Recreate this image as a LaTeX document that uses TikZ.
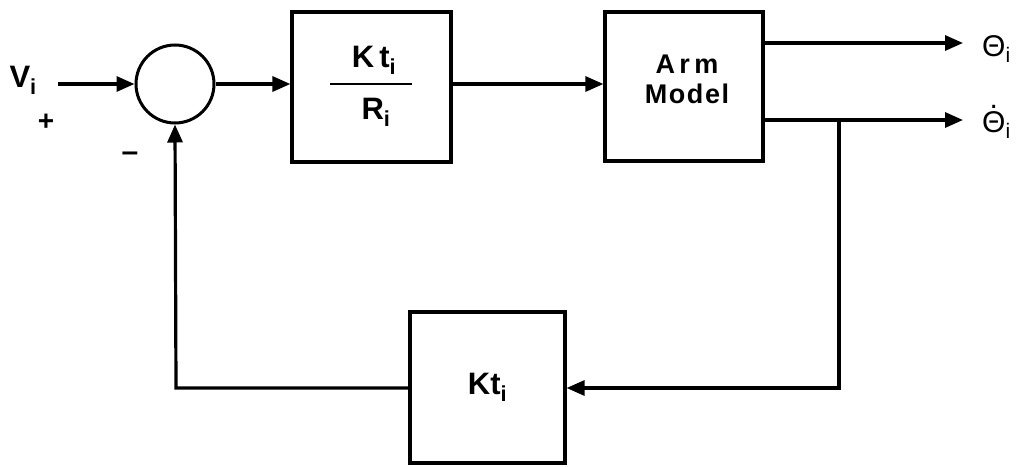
\documentclass[tikz,border=0pt]{standalone}
\usepackage{fontspec}
\setmainfont{Liberation Sans}
\usetikzlibrary{arrows.meta}
\newcommand\dotover[1]{\ooalign{#1\cr\hidewidth\smash{\raisebox{0.8em}{.}}\hidewidth\cr}}
\begin{document}
\begin{tikzpicture}[x=1pt,y=-1pt,
  wire/.style={line width=3.2pt},
  arr/.style={wire,-{Triangle[length=18pt,width=15pt]}},
  blockbox/.style={draw,line width=3.2pt,inner sep=0pt},
  lbl/.style={font=\fontsize{31}{34}\selectfont\bfseries},
  sml/.style={font=\fontsize{27}{30}\selectfont\bfseries\addfontfeature{LetterSpace=6}},
  outlbl/.style={font=\fontsize{30}{32}\selectfont,anchor=base west,inner sep=0pt}]
\useasboundingbox (0,0) rectangle (1020,466);
% blocks
\node[draw,circle,line width=3pt,minimum size=78pt,inner sep=0pt] (sum) at (175,84) {};
\node[blockbox,minimum width=159pt,minimum height=150pt] (gain) at (371.5,87) {};
\node[blockbox,minimum width=158pt,minimum height=149pt] (arm) at (684,86.5) {};
\node[sml,align=center] (armtxt) at (687,79) {A\,r\,m\\[0pt]Model};
\node[blockbox,minimum width=155pt,minimum height=151pt,lbl] (fb) at (487.5,387.5) {Kt\textsubscript{i}};
% fraction text
\node[lbl] (num) at (374,60) {K\,t\textsubscript{i}};
\node[lbl] (den) at (376,112) {R\textsubscript{i}};
\coordinate (barl) at (330,84);
\coordinate (barr) at (412,84);
\draw[line width=2.8pt] (barl) -- (barr);
% labels
\node[lbl,anchor=west] (vlab) at (6,80) {V\textsubscript{i}};
\node[font=\fontsize{28}{28}\selectfont\bfseries] (plus) at (46,122) {+};
\node[font=\fontsize{30}{30}\selectfont\bfseries] (minus) at (130,157) {--};
\node[outlbl] (th1) at (982,56) {Θ\textsubscript{i}};
\node[outlbl] (th2) at (982,132) {\dotover{Θ}\textsubscript{i}};
% coordinates
\coordinate (vin) at (58,84);
\coordinate (o1) at (963,43);
\coordinate (o2) at (963,120);
\coordinate (br) at (839,120);
\coordinate (brd) at (839,388);
\coordinate (fl) at (176,388);
% connectors
\draw[arr] (vin) -- (sum.west);
\draw[arr] (sum.east) -- (gain.west |- sum.east);
\draw[arr] (gain.east |- sum.east) -- (arm.west |- sum.east);
\draw[arr] (arm.east |- o1) -- (o1);
\draw[arr] (arm.east |- o2) -- (o2);
\draw[arr] (br) -- (brd) -- (fb.east |- brd);
\draw[arr] (fb.west |- fl) -- (fl) -- (sum.south);
\end{tikzpicture}
\end{document}
